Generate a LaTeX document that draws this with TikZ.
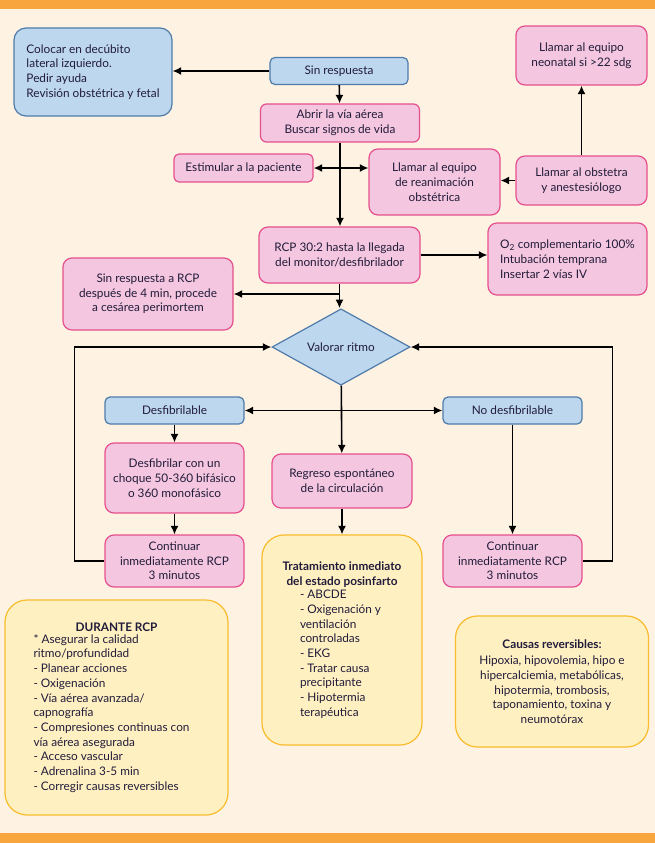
\documentclass[tikz,border=0pt]{standalone}
\usepackage{fontspec}
\setmainfont{Lato}
\usetikzlibrary{shapes.geometric,arrows.meta}
\tikzset{>={Latex[length=8.5pt,width=8pt]}}
\definecolor{fondo}{HTML}{FEF2E2}
\definecolor{naranja}{HTML}{F9A53D}
\definecolor{rellenoazul}{HTML}{BDD7EE}
\definecolor{bordeazul}{HTML}{4F7BAA}
\definecolor{rellenorosa}{HTML}{F4C6DF}
\definecolor{borderosa}{HTML}{E6508F}
\definecolor{rellenoamarillo}{HTML}{FFF0C2}
\definecolor{bordeamarillo}{HTML}{F8BC2C}
\definecolor{texto}{HTML}{211C3A}
\tikzset{
  caja/.style={rounded corners=9pt, line width=1.2pt, align=center, inner sep=2pt,
    text=texto, font=\fontsize{11.8}{14.7}\selectfont},
  azul/.style={caja, draw=bordeazul, fill=rellenoazul},
  rosa/.style={caja, draw=borderosa, fill=rellenorosa},
  amarillo/.style={caja, rounded corners=22pt, draw=bordeamarillo, fill=rellenoamarillo},
  flecha/.style={->, line width=1.6pt}
}

\begin{document}
\begin{tikzpicture}[x=1pt,y=-1pt]
                \fill[fondo] (0,0) rectangle (655,843);
                \fill[naranja] (0,0) rectangle (655,9);
                \fill[naranja] (0,833) rectangle (655,843);
                \node[azul, rounded corners=12pt, minimum width=158pt, minimum height=88pt, align=left] (colocar) at (93,72) {Colocar en decúbito\\lateral izquierdo.\\Pedir ayuda\\Revisión obstétrica y fetal};
                \node[azul, rounded corners=5pt, minimum width=138pt, minimum height=27pt] (sinresp) at (339,71) {Sin respuesta};
                \node[rosa, rounded corners=6pt, minimum width=159pt, minimum height=38pt] (abrir) at (340,123) {Abrir la vía aérea\\Buscar signos de vida};
                \node[rosa, rounded corners=5pt, minimum width=139pt, minimum height=28pt] (estimular) at (243.5,168) {Estimular a la paciente};
                \node[rosa, minimum width=131pt, minimum height=66pt] (equipo) at (434.5,182) {Llamar al equipo\\de reanimación\\obstétrica};
                \node[rosa, minimum width=131pt, minimum height=59pt] (neonatal) at (581.5,55.5) {Llamar al equipo\\neonatal si >22 sdg};
                \node[rosa, minimum width=131pt, minimum height=49pt] (obstetra) at (581.5,180.5) {Llamar al obstetra\\y anestesiólogo};
                \node[rosa, minimum width=161pt, minimum height=56pt] (rcp) at (339.5,255) {RCP 30:2 hasta la llegada\\del monitor/desfibrilador};
                \node[rosa, minimum width=159pt, minimum height=72pt, align=left] (oxigeno) at (567.5,259) {O\textsubscript{2} complementario 100\%\\Intubación temprana\\Insertar 2 vías IV};
                \node[rosa, minimum width=170pt, minimum height=72pt] (sinrcp) at (148,294) {Sin respuesta a RCP\\después de 4 min, procede\\a cesárea perimortem};
                \node[azul, diamond, rounded corners=0pt, minimum width=138pt, minimum height=72pt, inner sep=0pt] (ritmo) at (341,347) {Valorar ritmo};
                \node[azul, rounded corners=5pt, minimum width=139pt, minimum height=27pt] (desf) at (174.5,410.5) {Desfibrilable};
                \node[azul, rounded corners=5pt, minimum width=139pt, minimum height=27pt] (nodesf) at (512.5,410.5) {No desfibrilable};
                \node[rosa, minimum width=139pt, minimum height=70pt] (choque) at (174.5,478) {Desfibrilar con un\\choque 50-360 bifásico\\o 360 monofásico};
                \node[rosa, minimum width=140pt, minimum height=54pt] (regreso) at (342,481) {Regreso espontáneo\\de la circulación};
                \node[rosa, minimum width=139pt, minimum height=52pt] (contizq) at (174.5,561) {Continuar\\inmediatamente RCP\\3 minutos};
                \node[rosa, minimum width=139pt, minimum height=52pt] (contder) at (512.5,561) {Continuar\\inmediatamente RCP\\3 minutos};
                \node[amarillo, minimum width=160pt, minimum height=210pt] (tratamiento) at (342,640) {\textbf{Tratamiento inmediato}\\\textbf{del estado posinfarto}\\[2pt]\hspace*{8pt}\parbox{92pt}{\raggedright - ABCDE\\- Oxigenación y\\ventilación\\controladas\\- EKG\\- Tratar causa\\precipitante\\- Hipotermia\\terapéutica}};
                \node[amarillo, minimum width=223pt, minimum height=215pt] (durante) at (116.5,707.5) {\textbf{DURANTE RCP}\\[2pt]\parbox{166pt}{\raggedright * Asegurar la calidad\\ritmo/profundidad\\- Planear acciones\\- Oxigenación\\- Vía aérea avanzada/\\capnografía\\- Compresiones continuas con\\vía aérea asegurada\\- Acceso vascular\\- Adrenalina 3-5 min\\- Corregir causas reversibles}};
                \node[amarillo, minimum width=193pt, minimum height=131pt] (causas) at (552,681.5) {\textbf{Causas reversibles:}\\[2pt]Hipoxia, hipovolemia, hipo e\\hipercalciemia, metabólicas,\\hipotermia, trombosis,\\taponamiento, toxina y\\neumotórax};
                \coordinate (cruce1) at (abrir.south |- estimular);
                \coordinate (cruce2) at (rcp.south |- sinrcp);
                \coordinate (cruce3) at (ritmo.south |- desf);
                \draw[flecha] (sinresp.west) -- (sinresp.west -| colocar.east);
                \draw[flecha] (sinresp) -- (abrir);
                \draw[flecha] (abrir.south) -- (abrir.south |- rcp.north);
                \draw[flecha] (cruce1) -- (estimular);
                \draw[flecha] (cruce1) -- (cruce1 -| equipo.west);
                \draw[flecha] (obstetra.west) -- (obstetra.west -| equipo.east);
                \draw[flecha] (obstetra) -- (neonatal);
                \draw[flecha] (rcp.east) -- (rcp.east -| oxigeno.west);
                \draw[flecha] (rcp.south) -- (rcp.south |- ritmo.north);
                \draw[flecha] (cruce2) -- (sinrcp);
                \draw[flecha] (ritmo) -- (regreso);
                \draw[flecha] (cruce3) -- (desf);
                \draw[flecha] (cruce3) -- (nodesf);
                \draw[flecha] (desf.south) -- (desf.south |- choque.north);
                \draw[flecha] (choque) -- (contizq);
                \draw[flecha] (nodesf) -- (contder);
                \draw[flecha] (regreso) -- (tratamiento);
                \draw[flecha] (contizq.west) -- ++(-30,0) |- (ritmo.west);
                \draw[flecha] (contder.east) -- ++(30,0) |- (ritmo.east);
            \end{tikzpicture}
\end{document}
